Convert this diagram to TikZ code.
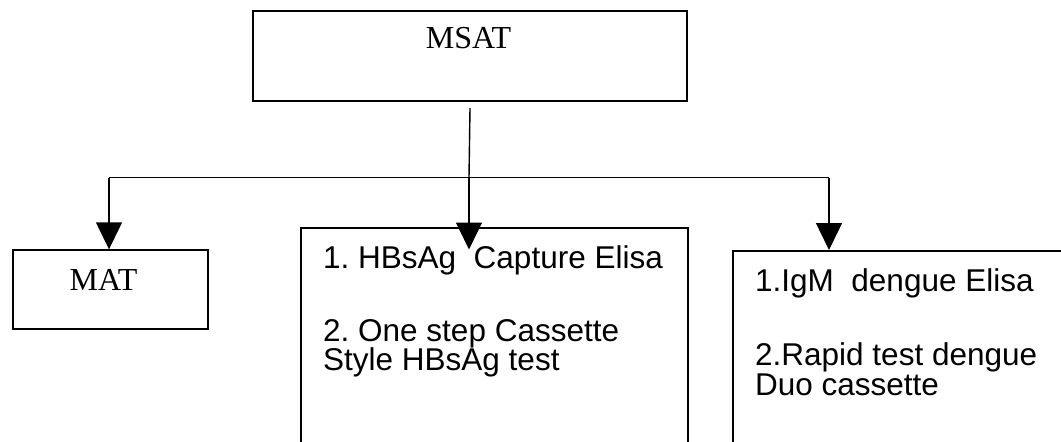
\documentclass[tikz,border=0pt]{standalone}
\usepackage{fontspec}
\setmainfont{Liberation Serif}
\newfontfamily\arialf{Liberation Sans}
\usetikzlibrary{arrows.meta}
\begin{document}
\frenchspacing
\begin{tikzpicture}[x=1pt,y=-1pt,
  boxline/.style={draw=black,line width=2pt,inner sep=0pt,anchor=north west},
  conn/.style={draw=black,line width=1.4pt},
  arr/.style={conn,-{Triangle[width=26pt,length=27pt]}},
  seriftext/.style={font=\fontsize{32}{32}\selectfont,inner sep=0pt,anchor=base},
  sanstext/.style={font=\arialf\fontsize{31.5}{31.5}\selectfont,inner sep=0pt,anchor=base west}]
\useasboundingbox (0,0) rectangle (1061,442);
\fill[white] (0,0) rectangle (1061,442);
\begin{scope}
\clip (0,0) rectangle (1061,442);
% boxes
\node[boxline,minimum width=434pt,minimum height=90.5pt] (msat) at (252,9.5) {};
\node[boxline,minimum width=195pt,minimum height=79pt] (mat) at (12.3,249.3) {};
\node[boxline,minimum width=386.5pt,minimum height=240pt] (mid) at (300,226.5) {};
\node[boxline,minimum width=360pt,minimum height=230pt] (rgt) at (732.3,250) {};
% texts
\node[seriftext] (msatt) at (468.5,48.3) {MSAT};
\node[seriftext] (matt) at (103.5,290) {MAT};
\node[sanstext] (m1) at (323,268.3) {1. HBsAg\ \ Capture Elisa};
\node[sanstext] (m2) at (323,341) {2. One step Cassette};
\node[sanstext] (m3) at (323,370) {Style HBsAg test};
\node[sanstext] (r1) at (755,291.7) {1.IgM\ \ dengue Elisa};
\node[sanstext] (r2) at (755,365) {2.Rapid test dengue};
\node[sanstext] (r3) at (755,395) {Duo cassette};
% connectors
\coordinate (j) at (469,177.7);
\coordinate (jl) at (109,177.7);
\coordinate (jr) at (829,177.7);
\coordinate (tipm) at (469,249.5);
\draw[conn] ([yshift=-6pt]msat.south) -- (j);
\draw[conn] (jl) -- (jr);
\draw[arr] (j) -- (tipm);
\draw[arr] (jl) -- (mat.north -| jl);
\draw[arr] (jr) -- (rgt.north -| jr);
\end{scope}
\end{tikzpicture}
\end{document}
